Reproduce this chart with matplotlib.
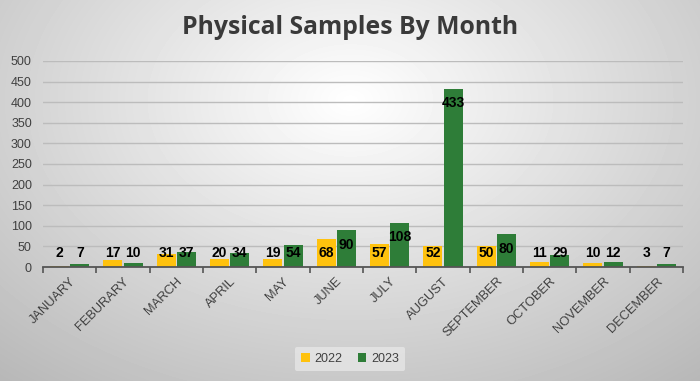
import numpy as np
import matplotlib.pyplot as plt

plt.rcParams['font.family'] = ['Liberation Sans', 'DejaVu Sans']

months = ['JANUARY', 'FEBURARY', 'MARCH', 'APRIL', 'MAY', 'JUNE', 'JULY',
          'AUGUST', 'SEPTEMBER', 'OCTOBER', 'NOVEMBER', 'DECEMBER']
s2022 = [2, 17, 31, 20, 19, 68, 57, 52, 50, 11, 10, 3]
s2023 = [7, 10, 37, 34, 54, 90, 108, 433, 80, 29, 12, 7]
yticks = [0, 50, 100, 150, 200, 250, 300, 350, 400, 450, 500]

c22 = '#FFC20E'
c23 = '#2E7D38'
txt = '#404040'

fig = plt.figure(figsize=(7, 3.81), dpi=100)

# radial gradient background
bg = fig.add_axes([0, 0, 1, 1], zorder=-10)
yy, xx = np.mgrid[0:381, 0:700]
r = np.sqrt(((xx - 350) / 500.0) ** 2 + ((yy - 100) / 340.0) ** 2)
g = np.clip(1.0 - 0.26 * r, 0, 1)
bg.imshow(g, cmap='gray', vmin=0, vmax=1, aspect='auto', extent=[0, 700, 381, 0])
bg.axis('off')

ax = fig.add_axes([43 / 700, 1 - 267 / 381, 640 / 700, 206 / 381])
ax.set_facecolor('none')

x = np.arange(len(months))
w = 0.36
b1 = ax.bar(x - w / 2 - 0.01, s2022, w, color=c22, label='2022', zorder=3)
b2 = ax.bar(x + w / 2 + 0.01, s2023, w, color=c23, label='2023', zorder=3)

for bars, vals in ((b1, s2022), (b2, s2023)):
    for b, v in zip(bars, vals):
        ypos = max(v - 36, 34)
        ax.text(b.get_x() + b.get_width() / 2, ypos, str(v), ha='center', va='center',
                fontsize=10, fontweight='bold', color='black', zorder=4)

ax.set_xlim(-0.5, len(months) - 0.5)
ax.set_ylim(0, 500)
ax.set_yticks(yticks)
ax.tick_params(axis='y', length=0, labelsize=9, labelcolor=txt, pad=8)
ax.grid(axis='y', color='#bcbcbc', linewidth=1.0, zorder=0)
ax.set_axisbelow(True)

ax.set_xticks(x)
ax.set_xticklabels(months, rotation=45, ha='right', rotation_mode='anchor',
                   fontsize=9.3, color=txt)
ax.tick_params(axis='x', length=0, pad=6)
ax.set_xticks(np.arange(-0.5, len(months)), minor=True)
ax.tick_params(axis='x', which='minor', length=4, width=1.2, color='#555555', direction='out')

for s in ('top', 'right', 'left'):
    ax.spines[s].set_visible(False)
ax.spines['bottom'].set_color('#555555')
ax.spines['bottom'].set_linewidth(1.3)
ax.spines['bottom'].set_zorder(5)

fig.text(0.5, 1 - 34 / 381, 'Physical Samples By Month', ha='center', va='baseline',
         fontsize=17.8, fontweight='bold', color='#3a3a3a', family='Open Sans')

leg = fig.legend(loc='center', bbox_to_anchor=(350 / 700, 1 - 359 / 381), ncol=2,
                 frameon=True, fontsize=9, handlelength=0.7, handleheight=0.7,
                 handletextpad=0.4, columnspacing=1.2, borderpad=0.5)
leg.get_frame().set_facecolor('#e6e6e6')
leg.get_frame().set_edgecolor('none')
leg.get_frame().set_alpha(0.8)
for t in leg.get_texts():
    t.set_color(txt)

fig.savefig('out.png', dpi=100)
